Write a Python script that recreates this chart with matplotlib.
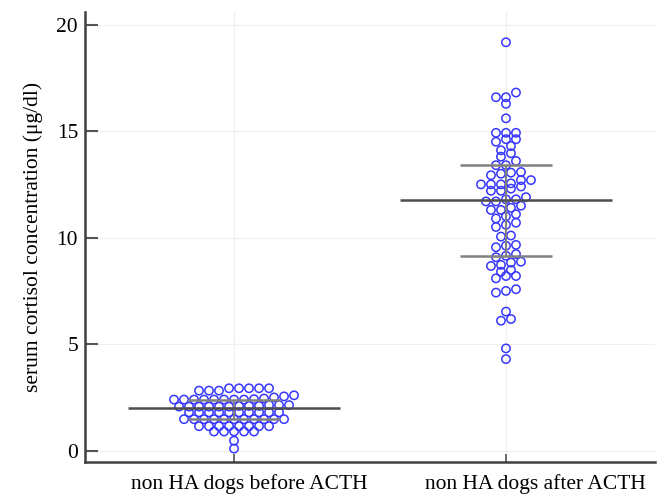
import numpy as np
import matplotlib
matplotlib.use('Agg')
import matplotlib.pyplot as plt
from matplotlib.transforms import ScaledTranslation

categories = ['non HA dogs before ACTH', 'non HA dogs after ACTH']

before_acth = [2.82, 2.82, 2.82, 2.93, 2.93, 2.93, 2.93, 2.93,
	2.4, 2.4, 2.4, 2.4, 2.4, 2.4, 2.4, 2.4, 2.42, 2.45, 2.5, 2.55, 2.6,
	2.07, 2.07, 2.07, 2.07, 2.07, 2.07, 2.1, 2.1, 2.1, 2.14, 2.14, 2.14,
	1.8, 1.8, 1.8, 1.8, 1.8, 1.8, 1.8, 1.8, 1.8, 1.8,
	1.48, 1.48, 1.48, 1.48, 1.48, 1.48, 1.48, 1.48, 1.48, 1.48, 1.48,
	1.15, 1.15, 1.15, 1.15, 1.15, 1.15, 1.15, 1.15,
	0.9, 0.9, 0.9, 0.9, 0.9,
	0.47, 0.1]

after_acth = [19.17,
	16.59, 16.59, 16.81, 16.28, 15.6,
	14.92, 14.92, 14.92, 14.5, 14.62, 14.62,
	14.1, 14.3, 13.8, 13.96, 13.4, 13.4, 13.6,
	12.93, 13.0, 13.05, 13.08,
	12.5, 12.5, 12.5, 12.55, 12.7, 12.7,
	12.2, 12.2, 12.3, 12.4,
	11.7, 11.7, 11.8, 11.8, 11.9,
	11.3, 11.3, 11.4, 11.5,
	10.9, 11.0, 11.1, 10.5, 10.6, 10.7, 10.05, 10.1,
	9.55, 9.62, 9.66, 9.08, 9.15, 9.23,
	8.67, 8.72, 8.83, 8.87, 8.4, 8.48, 8.09, 8.2, 8.2,
	7.42, 7.5, 7.58, 6.53, 6.1, 6.18, 4.8, 4.3]

# median and interquartile range
medians = [2.0, 11.77]
lower_q = [1.5, 9.14]
upper_q = [2.4, 13.41]

y_ticks = [0, 5, 10, 15, 20]


def dot_offsets(values, gap, step):
	# points whose values lie within `gap` of a row's top value share a row,
	# and are spread side by side, lowest on the left
	values = np.asarray(values)
	rows = []
	for idx in np.argsort(-values, kind='stable'):
		if rows and values[idx] >= values[rows[-1][0]] - gap:
			rows[-1].append(idx)
		else:
			rows.append([idx])
	offs = np.zeros(len(values))
	for row in rows:
		row = sorted(row, key=lambda j: values[j])
		n = len(row)
		for k, j in enumerate(row):
			offs[j] = (k - (n - 1) / 2) * step
	return offs


plt.rcParams['font.family'] = ['Liberation Serif', 'DejaVu Serif']

fig = plt.figure(figsize=(6.6, 4.96), dpi=100)
ax = fig.add_axes([85/660, 1 - 461.7/496, (655 - 85)/660, (461.7 - 12)/496])
ax.set_xlim(-0.548, 1.548)
ax.set_ylim(-0.516, 20.59)

# horizontal step between neighbouring dots: 10 px
step = 10 / (ax.bbox.width / (ax.get_xlim()[1] - ax.get_xlim()[0]))

for i, vals in enumerate([before_acth, after_acth]):
	xs = i + dot_offsets(vals, 0.23, step)
	ax.scatter(xs, vals, s=36, facecolors='none', edgecolors='#3737ff', linewidths=1.1, zorder=2)

for i in range(len(categories)):
	ax.vlines(i, lower_q[i], upper_q[i], color='#808080', lw=1.5, zorder=3)
	ax.hlines([lower_q[i], upper_q[i]], i - 0.17, i + 0.17, color='#808080', lw=1.8, zorder=3)
	ax.hlines(medians[i], i - 0.39, i + 0.39, color='#4d4d4d', lw=1.8, zorder=4)

ax.set_xticks(range(len(categories)))
ax.set_xticklabels(categories)
ax.set_yticks(y_ticks)
ax.grid(True, color='#efefef', lw=0.8, zorder=0)
ax.set_axisbelow(True)

for s in ['top', 'right']:
	ax.spines[s].set_visible(False)
for s in ['left', 'bottom']:
	ax.spines[s].set_color('#404040')
	ax.spines[s].set_linewidth(1.8)

ax.tick_params(axis='y', direction='in', length=9, width=1.5, color='#555555', labelsize=15.5, pad=5)
ax.tick_params(axis='x', direction='in', length=6, width=1.2, color='#555555', labelsize=15.5, pad=9)

ax.set_ylabel('serum cortisol concentration (μg/dl)', fontsize=15.5, labelpad=10)

# category labels sit a bit right of their ticks in the original
for lbl, dx in zip(ax.get_xticklabels(), [15, 29]):
	lbl.set_transform(lbl.get_transform() + ScaledTranslation(dx/100, 0, fig.dpi_scale_trans))

fig.savefig('out.png', dpi=100)
